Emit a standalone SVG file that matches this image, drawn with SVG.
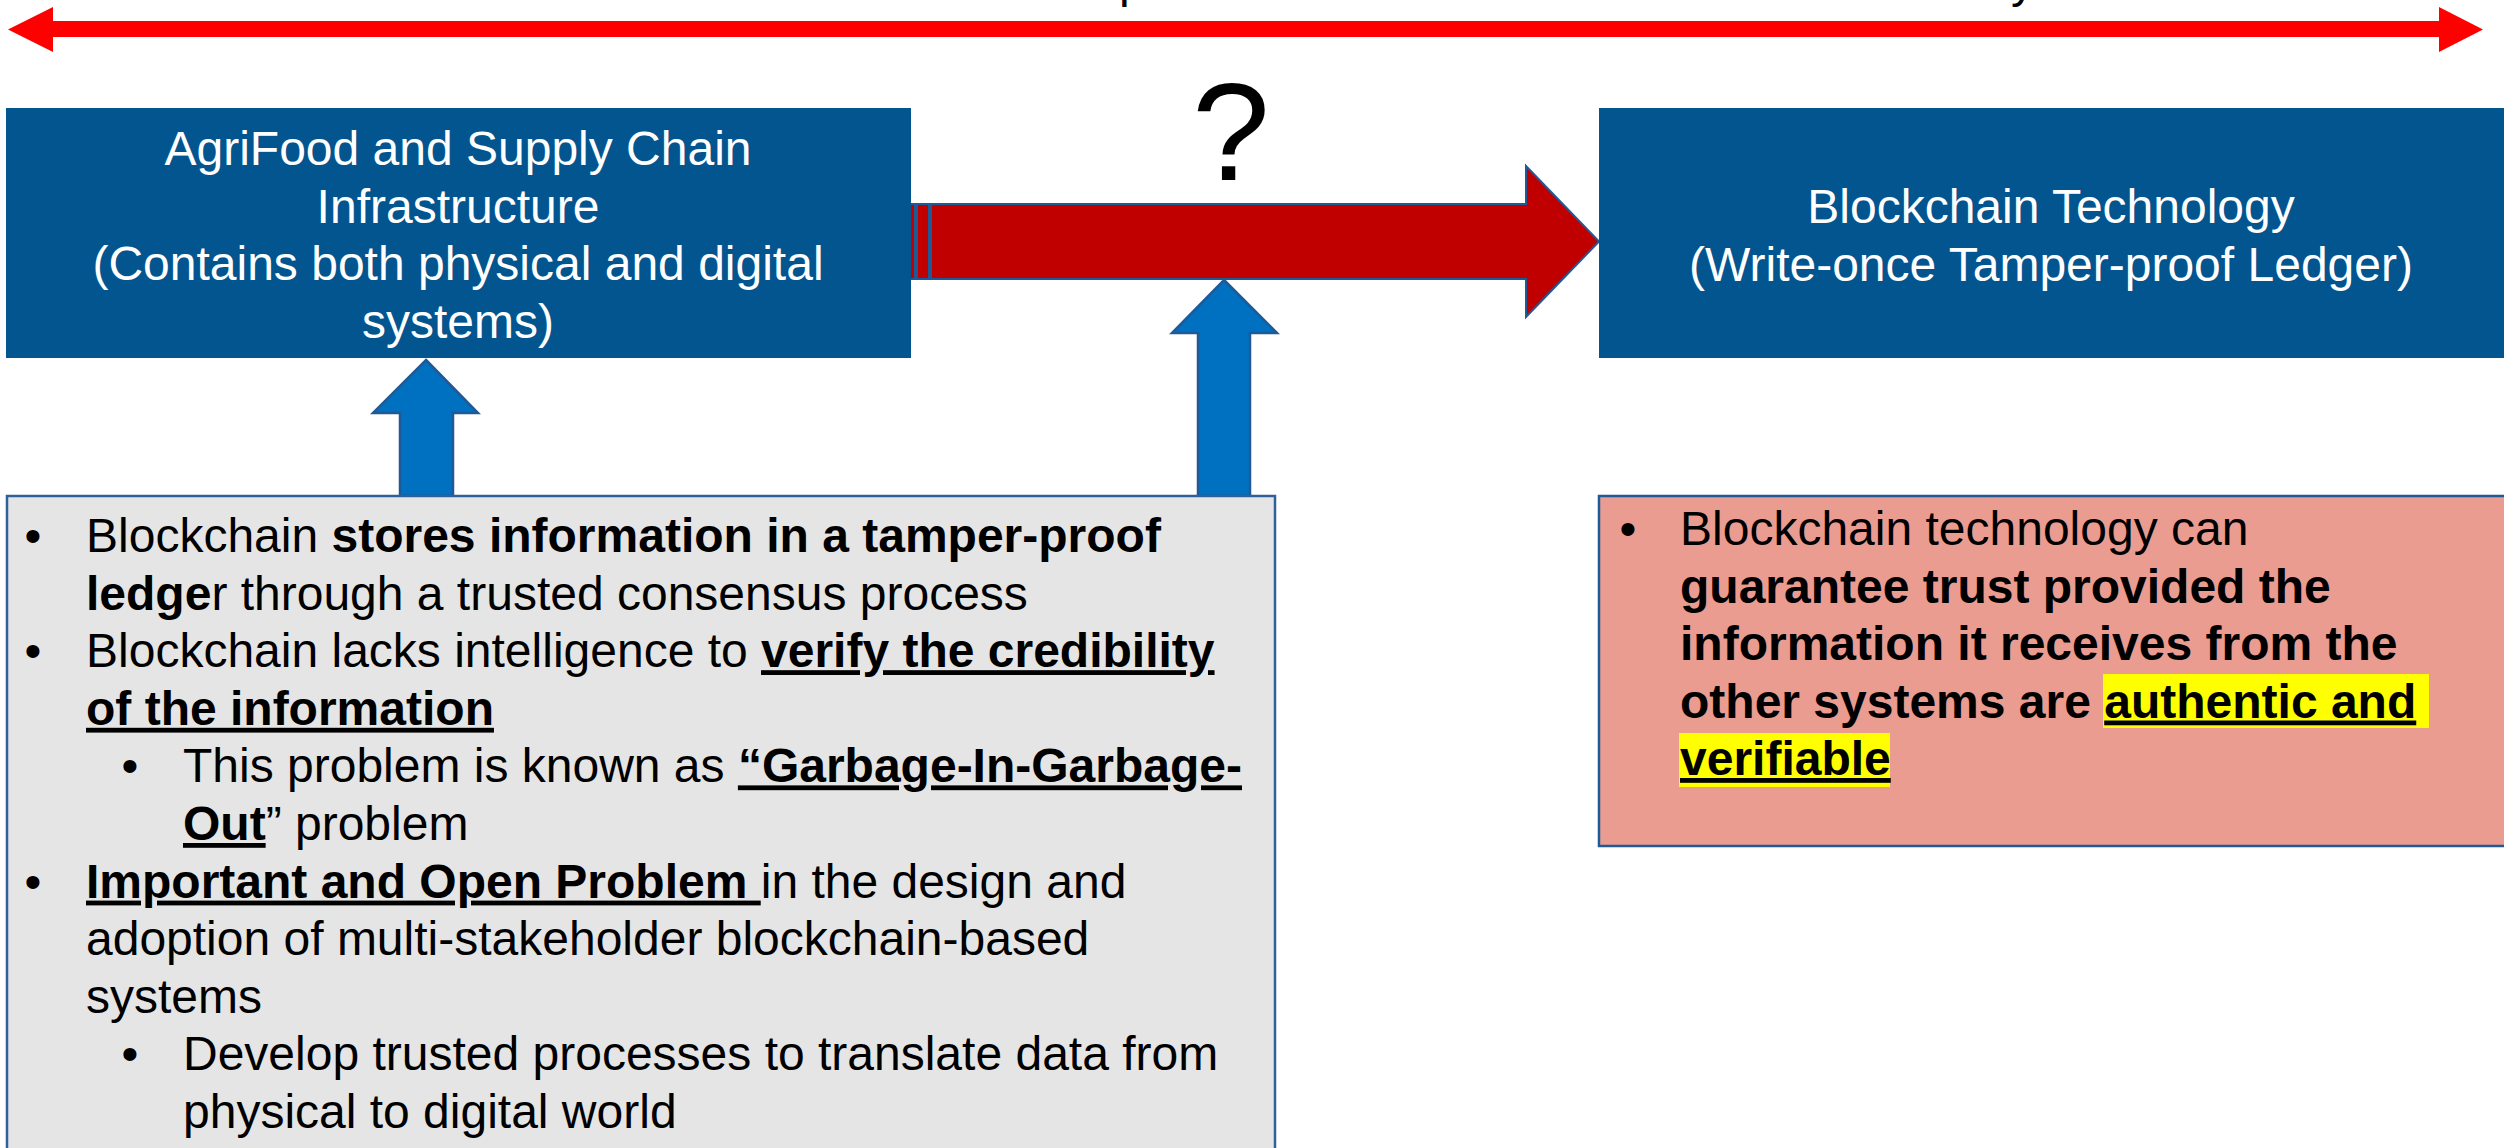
<svg xmlns="http://www.w3.org/2000/svg" width="2504" height="1148" viewBox="0 0 2504 1148">
  <style>
    text { font-family: "Liberation Sans", Arial, sans-serif; font-size: 48px; }
    .title { fill: #ffffff; text-anchor: middle; }
    .body { fill: #000000; }
    .b { font-weight: bold; }
    .u { text-decoration: underline; }
    .bullet { text-anchor: middle; }
    .box-blue { fill: #02558f; }
    .up-arrow { fill: #0070c0; stroke: #1f5a96; stroke-width: 2.5; }
    .flow { fill: #c00000; stroke: #1f5a96; stroke-width: 2; }
  </style>

  <rect width="2504" height="1148" fill="#ffffff"/>

  <!-- partially visible heading, mostly above the top edge -->
  <text class="body" x="1119" y="-3">p</text>
  <text class="body" x="2011" y="-3">y</text>

  <!-- connectors -->
  <g id="connectors">
    <!-- span arrow across the top -->
    <polygon fill="#ff0000" points="8,29.5 53,7 53,21 2439,21 2439,7 2483,29.5 2439,52 2439,37 53,37 53,52"/>
    <!-- striped flow arrow between the two blocks -->
    <g id="flow-arrow">
      <rect class="flow" x="900" y="204" width="15" height="75"/>
      <rect class="flow" x="917" y="204" width="12" height="75"/>
      <polygon class="flow" points="931,204 1526,204 1526,166 1599,241.5 1526,317 1526,279 931,279"/>
    </g>
    <!-- upward arrows from the problem box -->
    <polygon class="up-arrow" points="426,360 478,413 453,413 453,496 400,496 400,413 373,413"/>
    <polygon class="up-arrow" points="1224,280 1277,333 1250,333 1250,496 1198,496 1198,333 1172,333"/>
  </g>

  <!-- "?" over the flow arrow -->
  <text class="body" x="1231" y="180" style="font-size:140px;text-anchor:middle">?</text>

  <g id="node-agrifood">
    <rect class="box-blue" x="6" y="108" width="905" height="250"/>
    <text class="title" x="458" y="165">AgriFood and Supply Chain</text>
    <text class="title" x="458" y="222.6">Infrastructure</text>
    <text class="title" x="458" y="280.2">(Contains both physical and digital</text>
    <text class="title" x="458" y="337.8">systems)</text>
  </g>

  <g id="node-blockchain">
    <rect class="box-blue" x="1599" y="108" width="920" height="250"/>
    <text class="title" x="2051" y="223">Blockchain Technology</text>
    <text class="title" x="2051" y="280.6">(Write-once Tamper-proof Ledger)</text>
  </g>

  <g id="node-problem">
    <rect x="7" y="496" width="1268" height="680" fill="#e5e5e5" stroke="#2e6099" stroke-width="2.5"/>
    <text class="body bullet" x="33" y="552">•</text>
    <text class="body" x="86" y="552">Blockchain <tspan class="b">stores information in a tamper-proof</tspan></text>
    <text class="body" x="86" y="609.6"><tspan class="b">ledge</tspan>r through a trusted consensus process</text>
    <text class="body bullet" x="33" y="667.2">•</text>
    <text class="body" x="86" y="667.2">Blockchain lacks intelligence to <tspan class="b u">verify the credibility</tspan></text>
    <text class="body" x="86" y="724.8"><tspan class="b u">of the information</tspan></text>
    <text class="body bullet" x="130" y="782.4">•</text>
    <text class="body" x="183" y="782.4">This problem is known as <tspan class="b u">“Garbage-In-Garbage-</tspan></text>
    <text class="body" x="183" y="840"><tspan class="b u">Out</tspan>” problem</text>
    <text class="body bullet" x="33" y="897.6">•</text>
    <text class="body" x="86" y="897.6"><tspan class="b u">Important and Open Problem </tspan>in the design and</text>
    <text class="body" x="86" y="955.2">adoption of multi-stakeholder blockchain-based</text>
    <text class="body" x="86" y="1012.8">systems</text>
    <text class="body bullet" x="130" y="1070.4">•</text>
    <text class="body" x="183" y="1070.4">Develop trusted processes to translate data from</text>
    <text class="body" x="183" y="1128">physical to digital world</text>
  </g>

  <g id="node-trust">
    <rect x="1599" y="496" width="920" height="350" fill="#eb9c91" stroke="#1f5a96" stroke-width="2.5"/>
    <!-- highlighter behind the key phrase -->
    <rect x="2103" y="674" width="326" height="54" fill="#ffff00"/>
    <rect x="1679" y="733" width="211" height="54" fill="#ffff00"/>
    <text class="body bullet" x="1628" y="545">•</text>
    <text class="body" x="1680" y="545">Blockchain technology can</text>
    <text class="body b" x="1680" y="602.5">guarantee trust provided the</text>
    <text class="body b" x="1680" y="660">information it receives from the</text>
    <text class="body b" x="1680" y="717.5">other systems are <tspan class="u">authentic and</tspan></text>
    <text class="body b" x="1680" y="775"><tspan class="u">verifiable</tspan></text>
  </g>
</svg>
